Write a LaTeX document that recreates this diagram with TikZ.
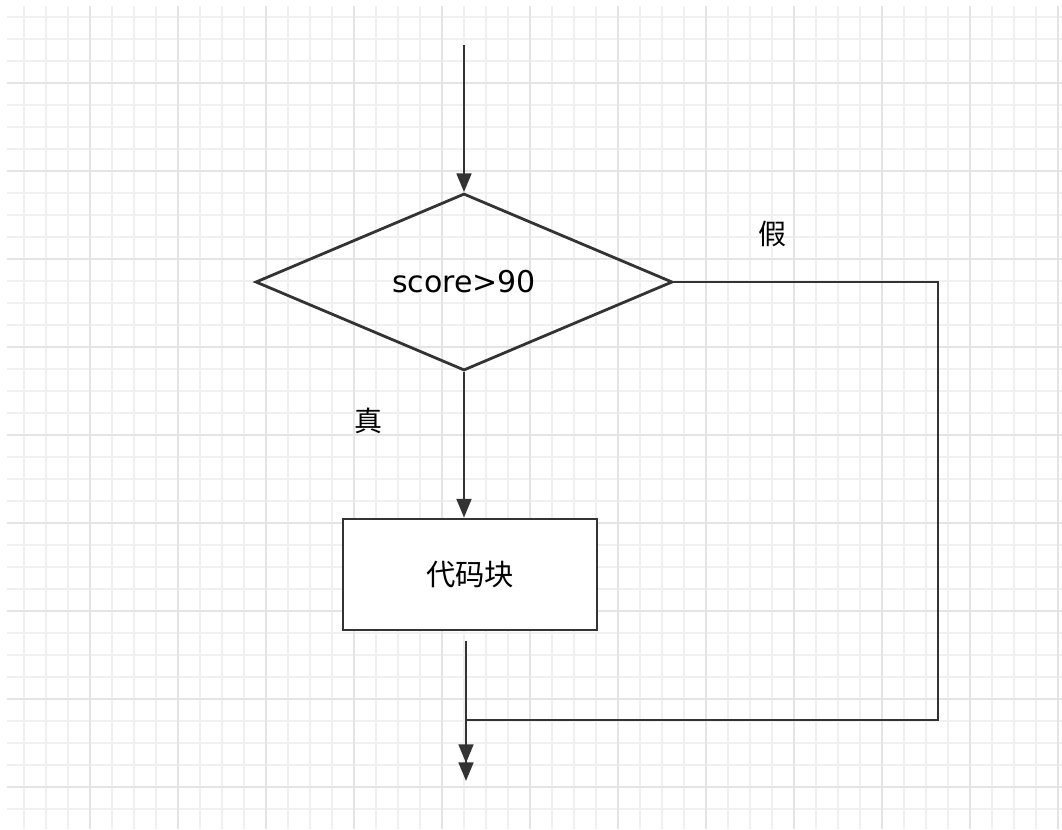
\documentclass[tikz,border=0pt]{standalone}
\usepackage{fontspec}
\setmainfont{DejaVu Sans}
\newfontfamily\cjk{Noto Sans CJK SC}
\usepackage{xcolor}
\usetikzlibrary{positioning,arrows.meta,shapes.geometric}
\definecolor{linegray}{HTML}{333333}
\definecolor{gridminor}{HTML}{F0F0F0}
\definecolor{gridmajor}{HTML}{E4E4E4}

\begin{document}
\begin{tikzpicture}[
  x=0.75pt, y=-0.75pt,
  decision/.style={draw=linegray, shape=diamond, line width=2.1pt,
                   minimum width=312.75pt, minimum height=132.75pt,
                   inner sep=0pt, font=\fontsize{22.5}{26}\selectfont},
  process/.style={draw=linegray, line width=2.1pt, fill=white,
                  minimum width=190.5pt, minimum height=83.25pt,
                  font=\cjk\fontsize{22}{26}\selectfont},
  lbl/.style={font=\cjk\fontsize{21}{24}\selectfont, text=black},
  arr/.style={-{Triangle[length=14pt, width=11pt]}, line width=2.1pt, linegray},
  gminor/.style={gridminor, line width=0.8pt},
  gmajor/.style={gridmajor, line width=1pt}
]
  \useasboundingbox[fill=white] (0,0) rectangle (1062,829);

  % background grid
  \foreach \i in {1,...,48} {
    \pgfmathsetmacro\gx{2+22*\i}
    \draw[gminor] (\gx,6) -- (\gx,829);
  }
  \foreach \i in {0,...,36} {
    \pgfmathsetmacro\gy{17+22*\i}
    \draw[gminor] (7,\gy) -- (1062,\gy);
  }
  \foreach \i in {1,...,12} {
    \pgfmathsetmacro\gx{2+88*\i}
    \draw[gmajor] (\gx,6) -- (\gx,829);
  }
  \foreach \i in {0,...,8} {
    \pgfmathsetmacro\gy{83+88*\i}
    \draw[gmajor] (7,\gy) -- (1062,\gy);
  }

  % flow chart
  \coordinate (start) at (464,45);
  \node[decision] (cond) at (464,282) {score>90};
  \node[process]  (code) at (470,574.5) {代码块};
  \coordinate (rgt)  at (938,720);
  \coordinate (join) at (466,720);
  \coordinate (out)  at (466,781);
  \coordinate (out1) at (466,763);

  \node[lbl] (no)  at (772,234) {假};
  \node[lbl] (yes) at (368,421) {真};

  \draw[arr] (start) -- (cond.north);
  \draw[arr] (cond.south) -- (cond.south |- code.north);
  \draw[arr, shorten <=7pt] (code.south -| join) -- (out1);
  \draw[arr] (cond.east) -| (rgt) -- (join) -- (out);
\end{tikzpicture}
\end{document}
